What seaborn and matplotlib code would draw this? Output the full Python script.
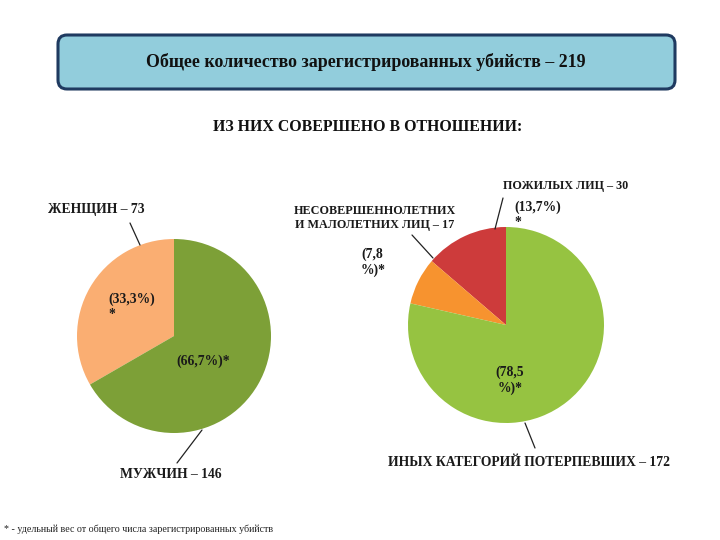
import matplotlib
matplotlib.use("Agg")
import matplotlib.pyplot as plt
import seaborn as sns
from matplotlib.patches import FancyBboxPatch

sns.set_theme(style="white")
plt.rcParams['font.family'] = ['Liberation Serif', 'DejaVu Serif']

# ---- data ----
title = "Общее количество зарегистрированных убийств – 219"
subtitle = "ИЗ НИХ СОВЕРШЕНО В ОТНОШЕНИИ:"
footnote = "* - удельный вес от общего числа зарегистрированных убийств"

gender_labels = ["ЖЕНЩИН – 73", "МУЖЧИН – 146"]
gender_values = [73, 146]
gender_pct = ["(33,3%)\n*", "(66,7%)*"]
gender_colors = ["#FAAE72", "#7DA037"]

cat_labels = ["ПОЖИЛЫХ ЛИЦ – 30",
              "НЕСОВЕРШЕННОЛЕТНИХ\nИ МАЛОЛЕТНИХ ЛИЦ – 17",
              "ИНЫХ КАТЕГОРИЙ ПОТЕРПЕВШИХ – 172"]
cat_values = [30, 17, 172]
cat_pct = ["(13,7%)\n*", "(7,8\n%)*", "(78,5\n%)*"]
cat_colors = ["#CD3B3B", "#F7932F", "#96C341"]

W, H = 720, 540
fig = plt.figure(figsize=(W / 100, H / 100), dpi=100)
fig.patch.set_facecolor("white")

def pie_axes(cx, cy, r):
    return fig.add_axes([(cx - r) / W, 1 - (cy + r) / H, 2 * r / W, 2 * r / H])

def finish(ax):
    ax.set_xlim(-1, 1)
    ax.set_ylim(-1, 1)
    ax.set_aspect("equal")
    ax.axis("off")

# left pie
axl = pie_axes(174, 336, 97)
axl.pie(gender_values, colors=gender_colors, startangle=90, counterclock=True,
        radius=1.0, wedgeprops=dict(linewidth=0))
finish(axl)

# right pie
axr = pie_axes(506, 325, 98)
axr.pie(cat_values, colors=cat_colors, startangle=90, counterclock=True,
        radius=1.0, wedgeprops=dict(linewidth=0))
finish(axr)

# overlay for texts in pixel coordinates
ov = fig.add_axes([0, 0, 1, 1], zorder=5)
ov.set_xlim(0, W)
ov.set_ylim(H, 0)
ov.axis("off")
ov.patch.set_alpha(0)

box = FancyBboxPatch((58, 35), 617, 54, boxstyle="round,pad=0,rounding_size=9",
                     facecolor="#92CDDC", edgecolor="#1F3A60", linewidth=2.2)
ov.add_patch(box)
ov.text(366, 62, title, ha="center", va="center", fontsize=12.9,
        fontweight="bold", color="#111111")
ov.text(368, 127, subtitle, ha="center", va="center", fontsize=11.4,
        fontweight="bold", color="#111111")

bold = dict(fontweight="bold", color="#1a1a1a")
# left labels
ov.text(48, 210, gender_labels[0], ha="left", va="center", fontsize=9.8, **bold)
ov.plot([130, 140], [223, 245], color="#222222", lw=0.9)
ov.text(108, 307, gender_pct[0], ha="left", va="center", fontsize=9.8,
        linespacing=1.2, **bold)
ov.text(176, 361, gender_pct[1], ha="left", va="center", fontsize=9.8, **bold)
ov.plot([202, 177], [430, 463], color="#222222", lw=0.9)
ov.text(171, 475, gender_labels[1], ha="center", va="center", fontsize=9.8, **bold)

# right labels
ov.text(566, 186, cat_labels[0], ha="center", va="center", fontsize=8.7, **bold)
ov.text(514, 215, cat_pct[0], ha="left", va="center", fontsize=9.8,
        linespacing=1.2, **bold)
ov.plot([503, 495], [198, 229], color="#222222", lw=0.9)
ov.text(375, 218, cat_labels[1], ha="center", va="center", fontsize=8.7,
        linespacing=1.3, **bold)
ov.plot([412, 433], [235, 258], color="#222222", lw=0.9)
ov.text(361, 262, cat_pct[1], ha="left", va="center", fontsize=9.8,
        linespacing=1.2, **bold)
ov.text(510, 380, cat_pct[2], ha="center", va="center", fontsize=9.8,
        linespacing=1.2, **bold)
ov.plot([525, 535], [423, 448], color="#222222", lw=0.9)
ov.text(529, 462, cat_labels[2], ha="center", va="center", fontsize=9.8, **bold)

ov.text(4, 529, footnote, ha="left", va="center", fontsize=7.2, color="#222222")

fig.savefig("out.png", dpi=100, facecolor="white")
